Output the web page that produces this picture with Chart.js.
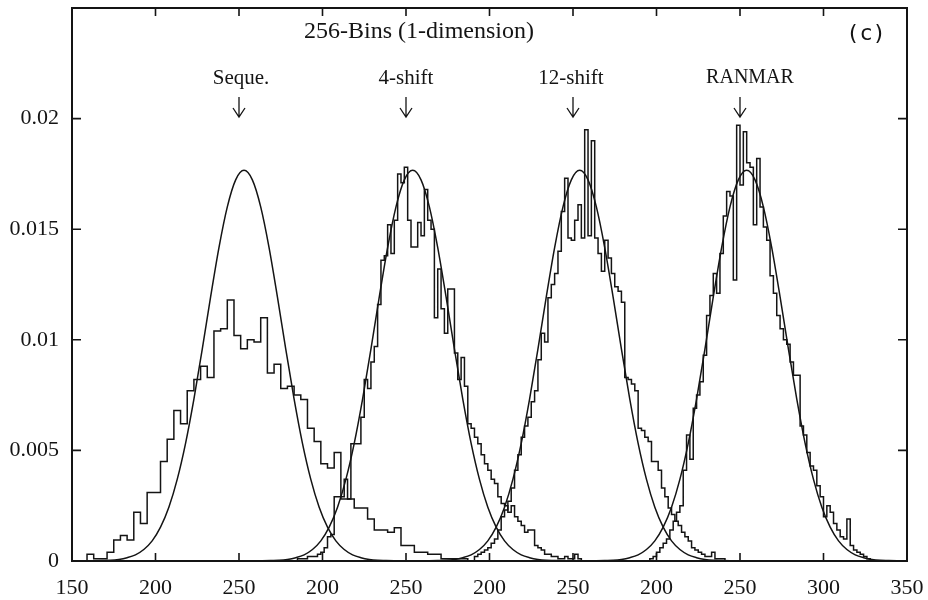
<!DOCTYPE html>
<html><head><meta charset="utf-8">
<script src="https://cdn.jsdelivr.net/npm/chart.js@4.4.0/dist/chart.umd.min.js"></script>
<style>html,body{margin:0;padding:0;background:#fff;}#wrap{width:928px;height:600px;}</style>
</head><body><div id="wrap"><canvas id="c" width="928" height="600"></canvas></div>
<script>
// ---------- data ----------
const xTickValues = [150,200,250,300,350,400,450,500,550,600,650];
const xTickLabels = ['150','200','250','200','250','200','250','200','250','300','350'];
const yTickValues = [0,0.005,0.01,0.015,0.02];
const yTickLabels = ['0','0.005','0.01','0.015','0.02'];

const seriesNames = ['Seque.','4-shift','12-shift','RANMAR'];
const arrowValues = [250,350,450,550];
const titleText = '256-Bins (1-dimension)';
const panelText = '(c)';

// Seque. histogram: bins of 4 starting at 159
const sequeStart = 159, sequeWidth = 4;
const sequeValues = [0.0003,0.0001,0.0001,0.0004,0.00095,0.00115,0.00095,0.0022,0.0017,0.0031,
  0.0031,0.0045,0.0055,0.0068,0.0062,0.0077,0.0082,0.0088,0.0083,0.0104,
  0.0105,0.0118,0.0102,0.0096,0.0100,0.0099,0.0110,0.0085,0.0089,0.0078,
  0.0079,0.0075,0.0073,0.0060,0.0054,0.0044,0.0042,0.0049,0.0028,0.0028,
  0.0024,0.0024,0.0019,0.0014,0.0014,0.0013,0.0015,0.0007,0.0007,0.0004,
  0.0004,0.0003,0.0003,0.0001,0.0001,0.0001,0.0001];

// 4-shift histogram: bins of 2 starting at 285
const shift4Start = 285, shift4Width = 2;
const shift4Values = [0.0001,0.0001,0.0001,0.0002,0.0002,0.0002,0.0003,0.0004,0.0006,0.0011,
  0.0012,0.0029,0.0029,0.0029,0.0037,0.0028,0.0053,0.0053,0.0053,0.0065,
  0.0082,0.0078,0.0090,0.0097,0.0116,0.0136,0.0138,0.0152,0.0139,0.0154,
  0.0175,0.0171,0.0178,0.0154,0.0142,0.0142,0.0153,0.0147,0.0168,0.0154,
  0.0150,0.0110,0.0132,0.0114,0.0103,0.0123,0.0123,0.0094,0.0082,0.0092,
  0.0079,0.0062,0.0060,0.0056,0.0053,0.0048,0.0044,0.0041,0.0037,0.0035,
  0.0029,0.0026,0.0025,0.0022,0.0025,0.0020,0.0018,0.0016,0.0013,0.0014,
  0.0014,0.0007,0.0006,0.0005,0.0003,0.0003,0.0002,0.0002,0.0001,0.0001,
  0.0002,0.0001,0.0001,0.0003,0.0001];

// 12-shift histogram: bins of 2 starting at 391
const shift12Start = 391, shift12Width = 2;
const shift12Values = [0.0002,0.0003,0.0004,0.0005,0.0006,0.0008,0.0010,0.0014,0.0020,0.0023,
  0.0027,0.0033,0.0041,0.0048,0.0056,0.0061,0.0065,0.0072,0.0077,0.0091,
  0.0103,0.0099,0.0119,0.0125,0.0130,0.0140,0.0158,0.0173,0.0146,0.0145,
  0.0154,0.0161,0.0146,0.0195,0.0147,0.0190,0.0146,0.0139,0.0131,0.0145,
  0.0137,0.0130,0.0124,0.0122,0.0117,0.0083,0.0082,0.0080,0.0077,0.0060,
  0.0059,0.0056,0.0054,0.0045,0.0045,0.0041,0.0033,0.0029,0.0024,0.0021,
  0.0018,0.0016,0.0013,0.0011,0.0009,0.0006,0.0005,0.0004,0.0003,0.0002,
  0.0002,0.0004,0.0001,0.0001,0.0001];

// RANMAR histogram: bins of 2 starting at 496
const ranmarStart = 496, ranmarWidth = 2;
const ranmarValues = [0.0001,0.0002,0.0004,0.0006,0.0008,0.0010,0.0014,0.0018,0.0022,0.0025,
  0.0041,0.0057,0.0046,0.0069,0.0075,0.0081,0.0093,0.0111,0.0120,0.0130,
  0.0121,0.0139,0.0156,0.0167,0.0165,0.0127,0.0197,0.0170,0.0194,0.0180,
  0.0178,0.0152,0.0182,0.0160,0.0151,0.0145,0.0129,0.0121,0.0111,0.0105,
  0.0100,0.0098,0.0090,0.0084,0.0084,0.0061,0.0057,0.0049,0.0043,0.0041,
  0.0034,0.0029,0.0020,0.0025,0.0022,0.0017,0.0014,0.0011,0.0010,0.0019,
  0.0007,0.0005,0.0004,0.0003,0.0002,0.0001];

// fitted curve, read at offsets from each panel centre
const fitCenters = [253,354,454,554];
const fitOffsets = [-95,-90,-85,-80,-75,-70,-65,-60,-55,-50,-45,-40,-35,-30,-25,-20,-15,-10,-5,0,
  5,10,15,20,25,30,35,40,45,50,55,60,65,70,75,80,85,90,95];
const fitValues = [0,0.00001,0.00002,0.00003,0.00007,0.00015,0.00028,0.00052,0.00091,0.00153,
  0.00243,0.00369,0.00532,0.00732,0.00958,0.01194,0.01417,0.01601,0.01723,0.01766,
  0.01723,0.01601,0.01417,0.01194,0.00958,0.00732,0.00532,0.00369,0.00243,0.00153,
  0.00091,0.00052,0.00028,0.00015,0.00007,0.00003,0.00002,0.00001,0];

// ---------- build ----------
function histPoints(start, width, vals){
  const pts = [{x:start, y:0}];
  vals.forEach((v,i)=>pts.push({x:start+i*width, y:v}));
  pts.push({x:start+vals.length*width, y:0});
  return pts;
}
function fitPoints(c){ return fitOffsets.map((d,i)=>({x:c+d, y:fitValues[i]})); }

const ink = '#141414';
const hists = [[sequeStart,sequeWidth,sequeValues],[shift4Start,shift4Width,shift4Values],
  [shift12Start,shift12Width,shift12Values],[ranmarStart,ranmarWidth,ranmarValues]];
const datasets = [];
hists.forEach((h,i)=>datasets.push({label:seriesNames[i], data:histPoints(h[0],h[1],h[2]),
  stepped:true, borderColor:ink, borderWidth:1.5, pointRadius:0, fill:false}));
fitCenters.forEach((c,i)=>datasets.push({label:'fit '+seriesNames[i], data:fitPoints(c),
  cubicInterpolationMode:'monotone', borderColor:ink, borderWidth:1.5, pointRadius:0, fill:false}));

const labelFonts = ['21px "Liberation Serif"','21px "Liberation Serif"','21px "Liberation Serif"','20px "Liberation Serif"'];
const labelShift = [2,0,-2,10];

const framePlugin = {
  id:'frame',
  afterDatasetsDraw(chart){
    const {ctx, chartArea:a, scales:{x,y}} = chart;
    ctx.save();
    ctx.strokeStyle = ink; ctx.lineWidth = 2;
    ctx.strokeRect(a.left, a.top, a.right-a.left, a.bottom-a.top);
    ctx.lineWidth = 1.6;
    ctx.beginPath();
    xTickValues.forEach(v=>{const px=x.getPixelForValue(v);
      ctx.moveTo(px,a.bottom); ctx.lineTo(px,a.bottom-8);
      ctx.moveTo(px,a.top); ctx.lineTo(px,a.top+8);});
    yTickValues.forEach(v=>{const py=y.getPixelForValue(v);
      ctx.moveTo(a.left,py); ctx.lineTo(a.left+9,py);
      ctx.moveTo(a.right,py); ctx.lineTo(a.right-9,py);});
    ctx.stroke();
    ctx.fillStyle = ink; ctx.textAlign='center'; ctx.textBaseline='middle';
    ctx.font = '24px "Liberation Serif"';
    ctx.fillText(titleText, 419, 32);
    ctx.font = '22px "DejaVu Sans Mono"';
    ctx.fillText(panelText, 866, 34);
    ctx.lineWidth = 1.3;
    seriesNames.forEach((n,i)=>{
      const px = x.getPixelForValue(arrowValues[i]);
      ctx.font = labelFonts[i];
      ctx.fillText(n, px + labelShift[i], 78);
      ctx.beginPath();
      ctx.moveTo(px,97); ctx.lineTo(px,117);
      ctx.moveTo(px-6,108); ctx.lineTo(px,117); ctx.lineTo(px+6,108);
      ctx.stroke();
    });
    ctx.restore();
  }
};

const tickFont = {family:'"Liberation Serif"', size:22};
new Chart(document.getElementById('c'), {
  type:'line',
  data:{datasets},
  plugins:[framePlugin],
  options:{
    responsive:false, animation:false, devicePixelRatio:1,
    layout:{padding:{top:8, right:21, left:0, bottom:0}},
    plugins:{legend:{display:false}, tooltip:{enabled:false}, title:{display:false}},
    elements:{line:{tension:0}},
    scales:{
      x:{type:'linear', min:150, max:650,
        afterBuildTicks:s=>{s.ticks = xTickValues.map(v=>({value:v}));},
        afterFit:s=>{s.height = 39; s.paddingLeft = 0; s.paddingRight = 0;},
        ticks:{autoSkip:false, maxRotation:0, padding:14, color:ink, font:tickFont,
          callback:(v,i)=>xTickLabels[i]},
        grid:{display:false, drawTicks:false}, border:{display:false}},
      y:{type:'linear', min:0, max:0.025,
        afterBuildTicks:s=>{s.ticks = yTickValues.map(v=>({value:v}));},
        afterFit:s=>{s.width = 72; s.paddingTop = 0; s.paddingBottom = 0;},
        ticks:{padding:13, color:ink, font:tickFont,
          callback:(v,i)=>yTickLabels[i]},
        grid:{display:false, drawTicks:false}, border:{display:false}}
    }
  }
});
</script></body></html>
